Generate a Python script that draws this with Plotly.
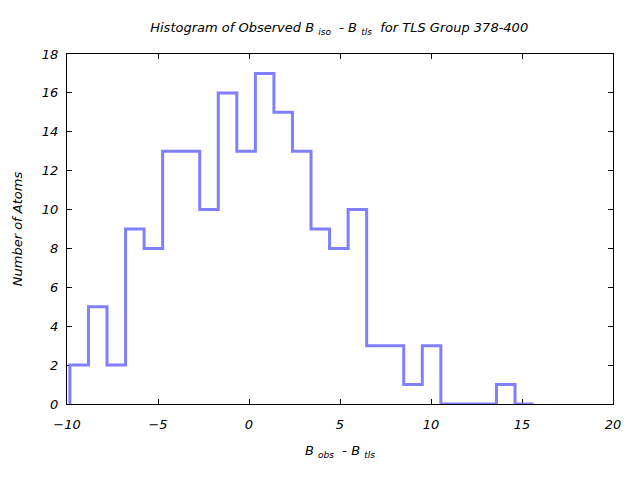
import plotly.graph_objects as go

bin_start = -9.84
bin_width = 1.019
counts = [2, 5, 2, 9, 8, 13, 13, 10, 16, 13, 17, 15, 13, 9, 8, 10, 3, 3, 1, 3, 0, 0, 0, 1, 0]

edges = [bin_start + i * bin_width for i in range(len(counts) + 1)]
xs = [edges[0]] + edges[:-1] + [edges[-1]]
ys = [0] + counts + [counts[-1]]

x_ticks = [-10, -5, 0, 5, 10, 15, 20]
y_ticks = [0, 2, 4, 6, 8, 10, 12, 14, 16, 18]

font_family = "DejaVu Sans"

fig = go.Figure()
fig.add_trace(go.Scatter(
    x=xs, y=ys, mode="lines",
    line=dict(shape="hv", color="#8080ff", width=3),
    showlegend=False,
))

axis_common = dict(
    showgrid=False, zeroline=False, showline=True, linecolor="black", linewidth=1,
    mirror="ticks", ticks="inside", ticklen=5, tickcolor="black", layer="below traces",
    tickfont=dict(family=font_family, size=13, color="black", style="italic"),
)

fig.update_layout(
    width=640, height=480,
    margin=dict(l=67, r=27, t=54, b=76),
    paper_bgcolor="white", plot_bgcolor="white",
    title=dict(
        text="Histogram of Observed B <sub>iso</sub>  - B <sub>tls</sub>  for TLS Group 378-400",
        x=0.53, xanchor="center", y=0.943, yanchor="middle",
        font=dict(family=font_family, size=13, color="black", style="italic"),
    ),
    xaxis=dict(
        range=[-10, 20], tickvals=x_ticks, ticklabelstandoff=8,
        title=dict(text="B <sub>obs</sub>  - B <sub>tls</sub>", standoff=15,
                   font=dict(family=font_family, size=13, color="black", style="italic")),
        **axis_common,
    ),
    yaxis=dict(
        range=[0, 18], tickvals=y_ticks, ticklabelstandoff=5,
        title=dict(text="Number of Atoms", standoff=16,
                   font=dict(family=font_family, size=13, color="black", style="italic")),
        **axis_common,
    ),
)

fig.write_html("out.html")
